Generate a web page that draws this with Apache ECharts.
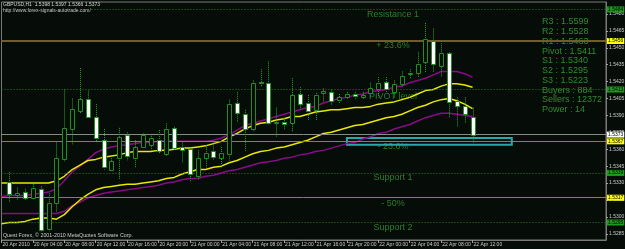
<!DOCTYPE html>
<html>
<head>
<meta charset="utf-8">
<script src="https://cdn.jsdelivr.net/npm/echarts@6/dist/echarts.min.js"></script>
<style>
html, body { margin: 0; padding: 0; background: #060c07; }
#chart { width: 625px; height: 249px; }
</style>
</head>
<body>
<div id="chart"></div>
<script>
// GBPUSD H1, 20 Apr 00:00 .. 22 Apr 12:00 plus empty shift area
var barCount = 78;
var firstBar = 1;
var lastBar = 60;

var categories = [];
for (var i = 0; i < barCount; i++) {
  var d = 20 + Math.floor(i / 24), h = i % 24;
  categories.push(d + ' Apr ' + (h < 10 ? '0' : '') + h + ':00');
}

var timeLabels = ['20 Apr 2010', '20 Apr 04:00', '20 Apr 08:00', '20 Apr 12:00', '20 Apr 16:00',
  '20 Apr 20:00', '21 Apr 00:00', '21 Apr 04:00', '21 Apr 08:00', '21 Apr 12:00', '21 Apr 16:00',
  '21 Apr 20:00', '22 Apr 00:00', '22 Apr 04:00', '22 Apr 08:00', '22 Apr 12:00'];

var priceTicks = [1.5285, 1.5300, 1.5315, 1.5330, 1.5345, 1.5360, 1.5375, 1.5390,
  1.5405, 1.5420, 1.5435, 1.5450, 1.5465, 1.5480];

// candles, bars 1..60
var opens = [1.5331,1.5319,1.5322,1.5317,1.5325,1.5289,1.5312,1.5351,1.5378,1.5394,
  1.5405,1.5389,1.5368,1.5342,1.5352,1.5373,1.5352,1.5362,1.5364,1.5368,
  1.5356,1.5379,1.5362,1.5360,1.5336,1.5352,1.5358,1.5352,1.5356,1.5401,
  1.5391,1.5378,1.5420,1.5419,1.5383,1.5384,1.5383,1.5409,1.5401,1.5395,
  1.5410,1.5411,1.5404,1.5406,1.5409,1.5406,1.5410,1.5413,1.5420,1.5411,
  1.5418,1.5427,1.5428,1.5437,1.5456,1.5434,1.5445,1.5403,1.5398,1.5389];
var closes = [1.5320,1.5321,1.5317,1.5326,1.5288,1.5312,1.5352,1.5379,1.5396,1.5405,
  1.5389,1.5370,1.5344,1.5350,1.5371,1.5354,1.5362,1.5373,1.5370,1.5358,
  1.5378,1.5361,1.5359,1.5338,1.5352,1.5357,1.5353,1.5357,1.5400,1.5392,
  1.5378,1.5419,1.5419,1.5383,1.5384,1.5382,1.5408,1.5400,1.5394,1.5408,
  1.5412,1.5403,1.5406,1.5409,1.5407,1.5408,1.5414,1.5419,1.5413,1.5418,
  1.5425,1.5428,1.5436,1.5458,1.5436,1.5445,1.5402,1.5398,1.5391,1.5373];
var lows = [1.5313,1.5315,1.5315,1.5315,1.5287,1.5287,1.5304,1.5349,1.5364,1.5392,
  1.5388,1.5366,1.5342,1.5342,1.5333,1.5350,1.5344,1.5361,1.5359,1.5356,
  1.5354,1.5359,1.5348,1.5331,1.5333,1.5344,1.5350,1.5344,1.5350,1.5384,
  1.5358,1.5376,1.5415,1.5382,1.5371,1.5377,1.5375,1.5395,1.5386,1.5386,
  1.5402,1.5399,1.5401,1.5404,1.5405,1.5404,1.5406,1.5406,1.5410,1.5406,
  1.5415,1.5423,1.5424,1.5428,1.5428,1.5424,1.5388,1.5380,1.5383,1.5366];
var highs = [1.5340,1.5326,1.5325,1.5329,1.5327,1.5321,1.5366,1.5413,1.5405,1.5432,
  1.5412,1.5400,1.5378,1.5352,1.5379,1.5375,1.5368,1.5374,1.5372,1.5377,
  1.5383,1.5380,1.5366,1.5361,1.5359,1.5364,1.5366,1.5362,1.5404,1.5411,
  1.5395,1.5421,1.5431,1.5438,1.5397,1.5388,1.5423,1.5415,1.5408,1.5410,
  1.5414,1.5413,1.5409,1.5411,1.5411,1.5411,1.5419,1.5424,1.5424,1.5421,
  1.5429,1.5431,1.5446,1.5472,1.5467,1.5454,1.5446,1.5406,1.5406,1.5397];

// moving average envelopes, bars 0..60
var maYellowUp = [1.5330,1.5330,1.5330,1.5330,1.5330,1.5330,1.5330,1.5332,1.5336,1.5342,
  1.5346,1.5350,1.5351,1.5353,1.5354,1.5355,1.5357,1.5358,1.5358,1.5358,
  1.5359,1.5359,1.5360,1.5361,1.5361,1.5362,1.5363,1.5365,1.5367,1.5371,
  1.5374,1.5378,1.5381,1.5383,1.5384,1.5386,1.5387,1.5389,1.5389,1.5391,
  1.5393,1.5394,1.5395,1.5395,1.5396,1.5397,1.5397,1.5398,1.5400,1.5401,
  1.5402,1.5404,1.5406,1.5409,1.5412,1.5413,1.5416,1.5418,1.5418,1.5417,1.5415];
var maPurpleUp = [1.5318,1.5319,1.5319,1.5319,1.5320,1.5321,1.5322,1.5325,1.5332,1.5340,
  1.5345,1.5351,1.5357,1.5360,1.5362,1.5363,1.5364,1.5365,1.5366,1.5366,
  1.5367,1.5367,1.5367,1.5367,1.5367,1.5367,1.5367,1.5368,1.5370,1.5373,
  1.5377,1.5381,1.5383,1.5385,1.5387,1.5389,1.5391,1.5393,1.5395,1.5397,
  1.5398,1.5401,1.5403,1.5405,1.5406,1.5408,1.5409,1.5411,1.5412,1.5413,
  1.5415,1.5416,1.5419,1.5421,1.5423,1.5426,1.5429,1.5429,1.5429,1.5427,1.5424];
var maYellowLow = [1.5294,1.5295,1.5295,1.5296,1.5298,1.5299,1.5299,1.5298,1.5302,1.5309,
  1.5315,1.5320,1.5324,1.5326,1.5327,1.5328,1.5329,1.5329,1.5330,1.5331,
  1.5332,1.5334,1.5335,1.5338,1.5340,1.5342,1.5342,1.5344,1.5345,1.5348,
  1.5350,1.5353,1.5356,1.5358,1.5359,1.5361,1.5362,1.5364,1.5366,1.5368,
  1.5371,1.5374,1.5375,1.5377,1.5379,1.5381,1.5382,1.5384,1.5386,1.5388,
  1.5389,1.5391,1.5394,1.5397,1.5399,1.5402,1.5404,1.5405,1.5403,1.5400,1.5396];
var maPurpleLow = [1.5303,1.5303,1.5303,1.5303,1.5303,1.5303,1.5303,1.5303,1.5305,1.5310,
  1.5313,1.5317,1.5319,1.5321,1.5322,1.5323,1.5324,1.5325,1.5326,1.5327,
  1.5328,1.5330,1.5331,1.5333,1.5334,1.5334,1.5336,1.5337,1.5339,1.5341,
  1.5342,1.5344,1.5346,1.5348,1.5349,1.5350,1.5352,1.5353,1.5355,1.5356,
  1.5358,1.5359,1.5361,1.5363,1.5365,1.5366,1.5369,1.5371,1.5374,1.5375,
  1.5378,1.5380,1.5382,1.5385,1.5388,1.5390,1.5392,1.5392,1.5391,1.5390,1.5389];

// horizontal levels drawn on the chart
var levelPrices = [1.5484, 1.5456, 1.5413, 1.5373, 1.5367, 1.5339, 1.5317, 1.5295];
var levelKinds = ['dot', 'fibo', 'dot', 'price', 'olive', 'dot', 'olive', 'dot'];
var zoneBars = [44, 65];
var zonePrices = [1.5370, 1.5364];

var levelNames = ['Resistance 1', '+ 23.6%', 'PIVOT level', '- 23.6%', 'Support 1', '- 50%', 'Support 2'];
var pivotInfo = ['R3 : 1.5599', 'R2 : 1.5528', 'R1 : 1.5463', 'Pivot : 1.5411', 'S1 : 1.5340',
  'S2 : 1.5295', 'S3 : 1.5223', 'Buyers : 884', 'Sellers : 12372', 'Power : 14'];

var bg = '#060c07';
var font = 'Liberation Sans';

var kindStyle = {
  dot:   { line: { color: '#237f23', type: [1, 2], width: 1 }, box: '#1f9a1f' },
  fibo:  { line: { color: '#705c2c', type: 'solid', width: 2 }, box: '#ffff00' },
  price: { line: { color: '#8a8a8a', type: 'solid', width: 1 }, box: '#ffffff' },
  olive: { line: { color: '#8c8a14', type: 'solid', width: 1 }, box: '#ffff00' }
};

var candleData = opens.map(function (o, k) {
  return [firstBar + k, o, closes[k], lows[k], highs[k]];
});

function lineSeries(name, data, color) {
  return {
    name: name, type: 'line', data: data, z: 3,
    showSymbol: false, symbol: 'none', silent: true,
    lineStyle: { color: color, width: 1.5 }
  };
}

var chart = echarts.init(document.getElementById('chart'), null, { renderer: 'canvas' });

var levelLines = levelPrices.map(function (p, k) {
  var st = kindStyle[levelKinds[k]];
  return {
    yAxis: p,
    lineStyle: st.line,
    label: {
      show: true, position: 'end', distance: 1,
      formatter: p.toFixed(4),
      backgroundColor: st.box, color: '#000', fontSize: 5, fontFamily: font,
      padding: [1, 1, 0, 1]
    }
  };
});

var textY = [15, 46, 97, 147, 178, 204, 228];
var infoY = [22, 32, 42, 52, 61, 71, 80.5, 90.5, 100, 110];
var graphics = [];
levelNames.forEach(function (t, k) {
  graphics.push({ type: 'text', x: 393, y: textY[k], silent: true,
    style: { text: t, fill: '#2b7f2b', fontSize: 9, fontFamily: font, align: 'center', verticalAlign: 'middle' } });
});
pivotInfo.forEach(function (t, k) {
  graphics.push({ type: 'text', x: 542, y: infoY[k], silent: true,
    style: { text: t, fill: '#2e8c2e', fontSize: 9, fontFamily: font, align: 'left', verticalAlign: 'middle' } });
});
graphics.push({ type: 'text', x: 3, y: 5, z: 10, silent: true,
  style: { text: 'GBPUSD,H1  1.5398 1.5397 1.5366 1.5373', fill: '#d8d8d8', fontSize: 5, fontFamily: font,
    verticalAlign: 'middle', backgroundColor: bg } });
graphics.push({ type: 'text', x: 3, y: 10.5, z: 10, silent: true,
  style: { text: 'http://www.forex-signals-autotrade.com/', fill: '#c8c8c8', fontSize: 5, fontFamily: font,
    verticalAlign: 'middle', backgroundColor: bg } });
graphics.push({ type: 'text', x: 3, y: 236, z: 10, silent: true,
  style: { text: 'Quest Forex, \u00a9 2001-2010 MetaQuotes Software Corp.', fill: '#d0d0d0', fontSize: 5.3, fontFamily: font,
    verticalAlign: 'middle' } });

function showTime(i) { return i % 4 === 0 && i <= lastBar; }

chart.setOption({
  backgroundColor: bg,
  animation: false,
  grid: {
    left: 1.5, right: 19, top: 2, bottom: 9, containLabel: false, outerBoundsMode: 'none',
    show: true, borderColor: '#7a7a7a', borderWidth: 1
  },
  xAxis: {
    type: 'category', data: categories, boundaryGap: false,
    axisLine: { lineStyle: { color: '#7a7a7a' } },
    axisTick: { show: true, interval: showTime, length: 3, lineStyle: { color: '#a0a0a0' } },
    axisLabel: {
      interval: showTime, align: 'left', margin: 2, padding: [0, 0, 0, 1],
      fontSize: 5, color: '#cccccc', fontFamily: font,
      formatter: function (v, i) { return timeLabels[i / 4] || ''; }
    },
    splitLine: { show: false }
  },
  yAxis: {
    type: 'value', position: 'right', min: 1.52795, max: 1.54906,
    axisLine: { show: true, lineStyle: { color: '#7a7a7a' } },
    axisTick: { show: true, customValues: priceTicks, length: 2, lineStyle: { color: '#a0a0a0' } },
    axisLabel: {
      customValues: priceTicks, margin: 3, fontSize: 5, color: '#cccccc', fontFamily: font,
      formatter: function (v) { return v.toFixed(4); }
    },
    splitLine: { show: false }
  },
  graphic: graphics,
  series: [
    {
      name: 'levels', type: 'line', data: maYellowUp, z: 1, silent: true,
      showSymbol: false, symbol: 'none', lineStyle: { opacity: 0 },
      markLine: { silent: true, precision: 4, symbol: ['none', 'none'], animation: false, data: levelLines },
      markArea: {
        silent: true,
        itemStyle: { color: 'rgba(0,0,0,0)', borderColor: '#27a9a9', borderWidth: 2 },
        data: [[{ xAxis: categories[zoneBars[0]], yAxis: zonePrices[0] },
                { xAxis: categories[zoneBars[1]], yAxis: zonePrices[1] }]]
      }
    },
    lineSeries('MA up', maPurpleUp, '#8a0a8a'),
    lineSeries('MA low', maPurpleLow, '#8a0a8a'),
    lineSeries('Env up', maYellowUp, '#e8e800'),
    lineSeries('Env low', maYellowLow, '#e8e800'),
    {
      name: 'GBPUSD,H1', type: 'custom', z: 5, silent: true,
      encode: { x: 0, y: [1, 2, 3, 4] },
      data: candleData,
      renderItem: function (params, api) {
        var i = api.value(0);
        var o = api.coord([i, api.value(1)]);
        var c = api.coord([i, api.value(2)]);
        var l = api.coord([i, api.value(3)]);
        var h = api.coord([i, api.value(4)]);
        var x = Math.round(o[0]) + 0.5;
        var top = Math.round(Math.min(o[1], c[1])) + 0.5;
        var bot = Math.round(Math.max(o[1], c[1])) + 0.5;
        var bear = api.value(2) < api.value(1);
        return {
          type: 'group',
          children: [
            { type: 'line', shape: { x1: x, y1: h[1], x2: x, y2: l[1] },
              style: { stroke: '#22a822', lineWidth: 1, lineDash: [1, 1] } },
            { type: 'rect', shape: { x: x - 2, y: top, width: 4, height: Math.max(bot - top, 1) },
              style: { fill: bear ? '#ffffff' : bg, stroke: '#1f8f1f', lineWidth: 1 } }
          ]
        };
      }
    }
  ]
});
</script>
</body>
</html>
